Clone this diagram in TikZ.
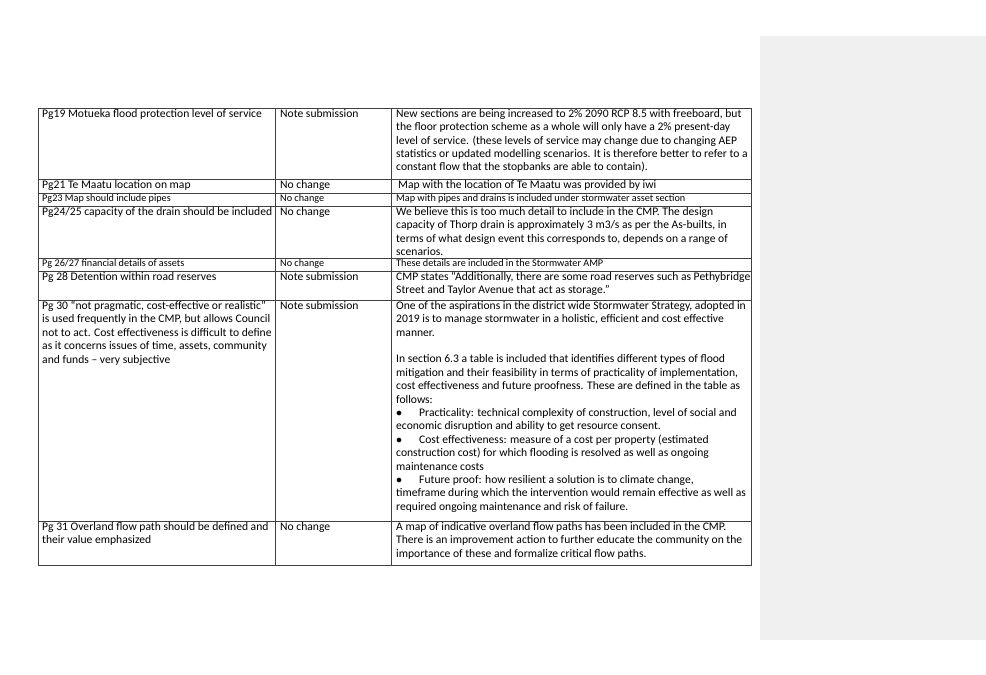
\documentclass[tikz,border=0pt]{standalone}
\usepackage{fontspec}
\setmainfont{Carlito}
\usetikzlibrary{positioning}
\begin{document}
\begin{tikzpicture}[x=1pt,y=-1pt,
  cell/.style={anchor=north west,inner sep=0pt,align=left,font=\fontsize{11.6}{13.4}\selectfont},
  smallcell/.style={cell,font=\fontsize{10.2}{12}\selectfont},
  rule/.style={draw=black!75,line width=0.6pt}]
  \useasboundingbox (0,0) rectangle (986,675);
  \fill[black!6] (760,36) rectangle (986,640);
  % grid
  \draw[rule] (38,108) rectangle (751,565);
  \foreach \y in {179,193,206,258,271,300,521}
    \draw[rule] (38,\y) -- (751,\y);
  \foreach \x in {275,391}
    \draw[rule] (\x,108) -- (\x,565);
  % row 1
  \node[cell] (a1) at (42,109) {Pg19 Motueka flood protection level of service};
  \node[cell] (b1) at (280,109) {Note submission};
  \node[cell] (c1) at (396,109) {New sections are being increased to 2\% 2090 RCP 8.5 with freeboard, but\\the floor protection scheme as a whole will only have a 2\% present-day\\level of service. (these levels of service may change due to changing AEP\\statistics or updated modelling scenarios. It is therefore better to refer to a\\constant flow that the stopbanks are able to contain).};
  % row 2
  \node[cell] (a2) at (42,180) {Pg21 Te Maatu location on map};
  \node[cell] (b2) at (280,180) {No change};
  \node[cell] (c2) at (398,180) {Map with the location of Te Maatu was provided by iwi};
  % row 3
  \node[smallcell] (a3) at (42,194) {Pg23 Map should include pipes};
  \node[smallcell] (b3) at (280,194) {No change};
  \node[smallcell] (c3) at (396,194) {Map with pipes and drains is included under stormwater asset section};
  % row 4
  \node[cell] (a4) at (42,207) {Pg24/25 capacity of the drain should be included};
  \node[cell] (b4) at (280,207) {No change};
  \node[cell] (c4) at (396,207) {We believe this is too much detail to include in the CMP. The design\\capacity of Thorp drain is approximately 3 m3/s as per the As-builts, in\\terms of what design event this corresponds to, depends on a range of\\scenarios.};
  % row 5
  \node[smallcell] (a5) at (42,259) {Pg 26/27 financial details of assets};
  \node[smallcell] (b5) at (280,259) {No change};
  \node[smallcell] (c5) at (396,259) {These details are included in the Stormwater AMP};
  % row 6
  \node[cell] (a6) at (42,272) {Pg 28 Detention within road reserves};
  \node[cell] (b6) at (280,272) {Note submission};
  \node[cell] (c6) at (396,272) {CMP states “Additionally, there are some road reserves such as Pethybridge\\Street and Taylor Avenue that act as storage.”};
  % row 7
  \node[cell] (a7) at (42,301) {Pg 30 “not pragmatic, cost-effective or realistic”\\is used frequently in the CMP, but allows Council\\not to act. Cost effectiveness is difficult to define\\as it concerns issues of time, assets, community\\and funds – very subjective};
  \node[cell] (b7) at (280,301) {Note submission};
  \node[cell] (c7) at (396,301) {One of the aspirations in the district wide Stormwater Strategy, adopted in\\2019 is to manage stormwater in a holistic, efficient and cost effective\\manner.\\[13.4pt]In section 6.3 a table is included that identifies different types of flood\\mitigation and their feasibility in terms of practicality of implementation,\\cost effectiveness and future proofness. These are defined in the table as\\follows:\\$\bullet$\hspace{17pt}Practicality: technical complexity of construction, level of social and\\economic disruption and ability to get resource consent.\\$\bullet$\hspace{17pt}Cost effectiveness: measure of a cost per property (estimated\\construction cost) for which flooding is resolved as well as ongoing\\maintenance costs\\$\bullet$\hspace{17pt}Future proof: how resilient a solution is to climate change,\\timeframe during which the intervention would remain effective as well as\\required ongoing maintenance and risk of failure.};
  % row 8
  \node[cell] (a8) at (42,522) {Pg 31 Overland flow path should be defined and\\their value emphasized};
  \node[cell] (b8) at (280,522) {No change};
  \node[cell] (c8) at (396,522) {A map of indicative overland flow paths has been included in the CMP.\\There is an improvement action to further educate the community on the\\importance of these and formalize critical flow paths.};
\end{tikzpicture}
\end{document}
